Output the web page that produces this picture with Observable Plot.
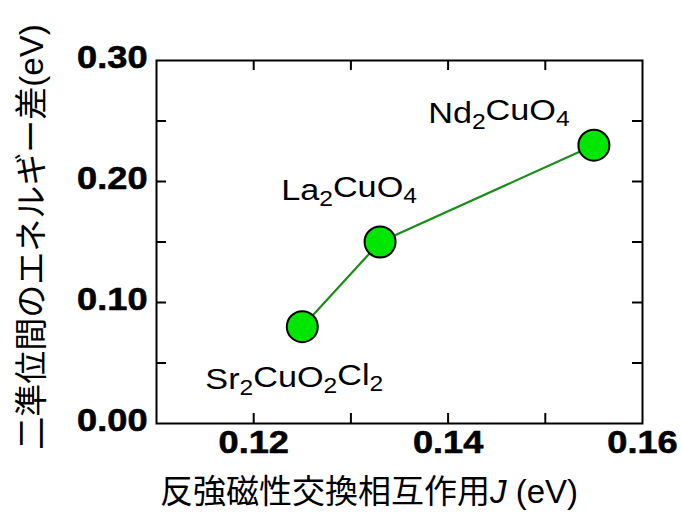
<!DOCTYPE html>
<html>
<head>
<meta charset="utf-8">
<script src="https://cdn.jsdelivr.net/npm/d3@7"></script>
<script src="https://cdn.jsdelivr.net/npm/@observablehq/plot@0.6"></script>
<style>
  html, body { margin: 0; padding: 0; background: #fff; }
  #chart svg { display: block; }
</style>
</head>
<body>
<div id="chart"></div>
<script>
// Data
const compounds = ["Sr_2CuO_2Cl_2", "La_2CuO_4", "Nd_2CuO_4"];
const jValues = [0.125, 0.133, 0.155];          // 反強磁性交換相互作用 J (eV)
const energyGap = [0.08, 0.15, 0.23];           // 二準位間のエネルギー差 (eV)
const labelDx = [-8, -31, -95];
const labelDy = [53, -52, -32];
const xDomain = [0.11, 0.16];
const yDomain = [0, 0.30];
const xMajorTicks = [0.12, 0.14, 0.16];
const xMinorTicks = [0.12, 0.13, 0.14, 0.15];
const yMajorTicks = [0.00, 0.10, 0.20, 0.30];
const yMinorTicks = [0.05, 0.10, 0.15, 0.20, 0.25];
const xLabel = "反強磁性交換相互作用";
const yLabel = "二準位間のエネルギー差(eV)";

const data = compounds.map((c, i) => ({name: c, x: jValues[i], y: energyGap[i], dx: labelDx[i], dy: labelDy[i]}));

const W = 681, H = 513;
const mL = 156, mR = 39, mT = 60, mB = 90;
const innerW = W - mL - mR, innerH = H - mT - mB;
const tickLen = 10;
const latin = "'Liberation Sans', Arial, Helvetica, sans-serif";
const cjk = "'Liberation Sans', 'Noto Sans CJK JP', sans-serif";

const plot = Plot.plot({
  width: W, height: H,
  marginLeft: mL, marginRight: mR, marginTop: mT, marginBottom: mB,
  style: {fontFamily: latin, background: "#fff", color: "#000", overflow: "visible"},
  x: {domain: xDomain, axis: null},
  y: {domain: yDomain, axis: null},
  marks: [
    Plot.tickX(xMinorTicks, {x: d => d, insetTop: innerH - tickLen, stroke: "#000", strokeWidth: 2}),
    Plot.tickX(xMinorTicks, {x: d => d, insetBottom: innerH - tickLen, stroke: "#000", strokeWidth: 2}),
    Plot.tickY(yMinorTicks, {y: d => d, insetRight: innerW - tickLen, stroke: "#000", strokeWidth: 2}),
    Plot.tickY(yMinorTicks, {y: d => d, insetLeft: innerW - tickLen, stroke: "#000", strokeWidth: 2}),
    Plot.frame({stroke: "#000", strokeWidth: 2}),
    Plot.axisX(xMajorTicks, {anchor: "bottom", tickSize: 0, tickPadding: 7, tickFormat: ".2f", fontSize: 32, fontWeight: "bold", label: null}),
    Plot.axisY(yMajorTicks, {anchor: "left", tickSize: 0, tickPadding: 9, dy: -3, tickFormat: ".2f", fontSize: 32, fontWeight: "bold", label: null}),
    Plot.line(data, {x: "x", y: "y", stroke: "#1a8c1a", strokeWidth: 2.2}),
    Plot.dot(data, {x: "x", y: "y", r: 15.5, fill: "#00e600", stroke: "#000", strokeWidth: 2}),
    ...data.map(d => Plot.text([d], {x: "x", y: "y", text: "name", fontSize: 30, dx: d.dx, dy: d.dy}))
  ]
});
document.getElementById("chart").appendChild(plot);
const svg = d3.select(plot);

// formula labels with subscripts
const formulas = svg.selectAll("g[aria-label='text'] text");
formulas.each(function() {
  const t = d3.select(this);
  const name = this.textContent;
  const parts = name.split(/(_\d)/).filter(s => s.length);
  t.text(null);
  let sub = false;
  parts.forEach(p => {
    if (p.startsWith("_")) {
      t.append("tspan").attr("dy", "0.28em").attr("font-size", "0.72em").text(p.slice(1));
      sub = true;
    } else {
      const ts = t.append("tspan").text(p);
      if (sub) ts.attr("dy", "-0.28em");
      sub = false;
    }
  });
});

// horizontal stretch of the Latin labels (wider glyphs in the original)
function stretch(sel, s) {
  sel.each(function() {
    const w = this.getComputedTextLength();
    this.setAttribute("textLength", (w * s).toFixed(1));
    this.setAttribute("lengthAdjust", "spacingAndGlyphs");
  });
}
const tickLabels = svg.selectAll("g[aria-label='x-axis tick label'] text, g[aria-label='y-axis tick label'] text");
stretch(tickLabels, 1.13);
tickLabels.attr("stroke", "#000").attr("stroke-width", 0.6);
stretch(formulas, 1.14);

// Axis titles
const xT = svg.append("text")
  .attr("x", mL + 4)
  .attr("y", H - 10)
  .attr("font-family", cjk)
  .attr("font-size", 33)
  .attr("fill", "#000")
  .attr("text-anchor", "start");
xT.append("tspan").text(xLabel);
xT.append("tspan").attr("font-style", "italic").text("J");
xT.append("tspan").text(" (eV)");

svg.append("text")
  .attr("transform", `translate(31,237) rotate(-90)`)
  .attr("font-family", cjk)
  .attr("font-size", 33)
  .attr("fill", "#000")
  .attr("text-anchor", "middle")
  .attr("dy", "0.35em")
  .text(yLabel);
</script>
</body>
</html>
